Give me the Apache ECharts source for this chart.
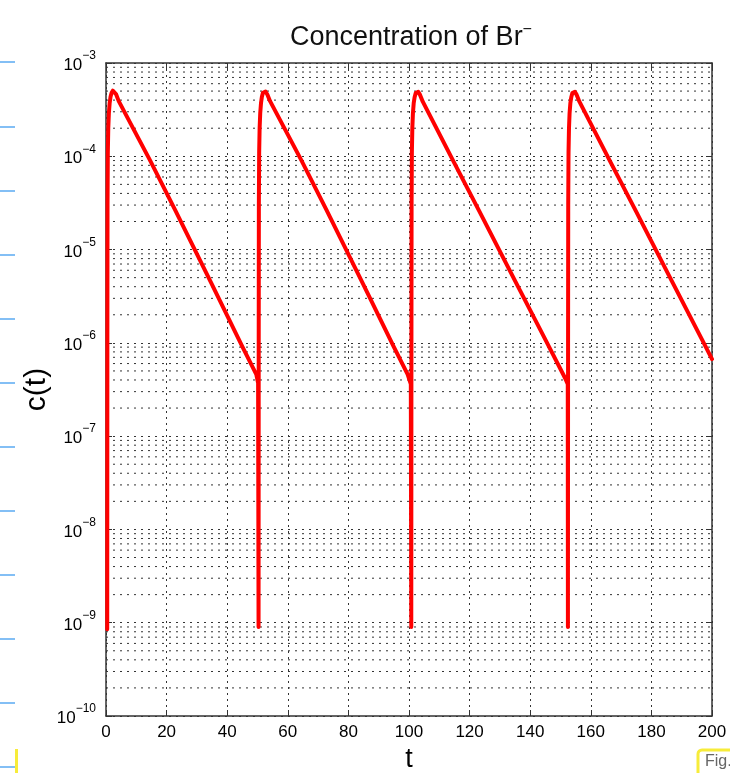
<!DOCTYPE html>
<html>
<head>
<meta charset="utf-8">
<script src="https://cdn.jsdelivr.net/npm/echarts@6/dist/echarts.min.js"></script>
<style>
  html, body { margin: 0; padding: 0; background: #fff; }
  #main { width: 730px; height: 773px; }
</style>
</head>
<body>
<div id="main"></div>
<script>
// 读图得到的数据: t 与 c(t)，每个周期一组
const tCycle1 = [0.4, 0.45, 0.5, 0.6, 0.75, 0.95, 1.2, 1.5, 1.85, 2.25, 2.7, 3.3, 4.2, 14.5, 22.8, 35, 45, 49.6, 50.2];
const cCycle1 = [8.5e-10, 1e-6, 3e-5, 1.1e-4, 2e-4, 2.9e-4, 3.7e-4, 4.35e-4, 4.8e-4, 5.05e-4, 5.0e-4, 4.65e-4, 3.9e-4, 9.1e-5, 2.66e-5, 4.2e-6, 9.1e-7, 4.6e-7, 3.7e-7];

const tCycle2 = [50.35, 50.4, 50.45, 50.55, 50.7, 50.9, 51.15, 51.45, 51.8, 52.2, 52.65, 53.25, 54.15, 64.45, 72.75, 84.95, 94.95, 99.55, 100.6];
const cCycle2 = [9e-10, 1e-6, 3e-5, 1.1e-4, 2e-4, 2.9e-4, 3.7e-4, 4.35e-4, 4.8e-4, 5.0e-4, 4.95e-4, 4.6e-4, 3.9e-4, 9.1e-5, 2.66e-5, 4.2e-6, 9.1e-7, 4.6e-7, 3.6e-7];

const tCycle3 = [100.75, 100.8, 100.85, 100.95, 101.1, 101.3, 101.55, 101.85, 102.2, 102.6, 103.05, 103.65, 104.55, 114.85, 123.15, 135.35, 145.35, 151.5, 152.4];
const cCycle3 = [9e-10, 1e-6, 3e-5, 1.1e-4, 2e-4, 2.9e-4, 3.7e-4, 4.3e-4, 4.75e-4, 4.95e-4, 4.9e-4, 4.55e-4, 3.85e-4, 8.6e-5, 2.6e-5, 4.4e-6, 1.03e-6, 4.2e-7, 3.6e-7];

const tCycle4 = [152.45, 152.5, 152.55, 152.65, 152.8, 153.0, 153.25, 153.55, 153.9, 154.3, 154.75, 155.35, 156.25, 166.55, 174.85, 187.05, 197.05, 200];
const cCycle4 = [9e-10, 1e-6, 3e-5, 1.1e-4, 2e-4, 2.9e-4, 3.7e-4, 4.3e-4, 4.75e-4, 4.95e-4, 4.9e-4, 4.55e-4, 3.85e-4, 8.6e-5, 2.6e-5, 4.4e-6, 1.03e-6, 6.7e-7];

// 坐标轴范围与刻度
const xTicks = [0, 20, 40, 60, 80, 100, 120, 140, 160, 180, 200];
const yDecades = [-10, -9, -8, -7, -6, -5, -4, -3];
const minorSteps = [2, 3, 4, 5, 6, 7, 8, 9];

const FONT = "'Liberation Sans', Arial, Helvetica, sans-serif";

let lineData = [];
[[tCycle1, cCycle1], [tCycle2, cCycle2], [tCycle3, cCycle3], [tCycle4, cCycle4]].forEach(function (pair) {
  for (let i = 0; i < pair[0].length; i++) {
    lineData.push([pair[0][i], pair[1][i]]);
  }
});

// 次网格线 2..9 x 10^k
let minorLines = [];
for (let i = 0; i < yDecades.length - 1; i++) {
  for (let j = 0; j < minorSteps.length; j++) {
    minorLines.push([xTicks[0], minorSteps[j] * Math.pow(10, yDecades[i])]);
  }
}

const chart = echarts.init(document.getElementById('main'), null, { renderer: 'canvas' });

const dotted = { color: '#333', width: 1, type: [2, 5] };

// 截图边上的装饰
let decoration = [];
[62, 127, 191, 255, 319, 383, 447, 511, 575, 639, 703, 767].forEach(function (y) {
  decoration.push({ type: 'line', shape: { x1: 0, y1: y, x2: 15, y2: y }, style: { stroke: '#5aaaf2', lineWidth: 1.5 } });
});
decoration.push({ type: 'rect', shape: { x: 15, y: 749, width: 3, height: 24 }, style: { fill: '#f7ec3a' } });
decoration.push({ type: 'rect', shape: { x: 698, y: 750, width: 40, height: 30, r: 4 }, style: { fill: '#fff', stroke: '#f7ec3a', lineWidth: 3 } });
decoration.push({ type: 'text', x: 705, y: 754, style: { text: 'Fig.', fill: '#666', font: '16px ' + FONT } });

chart.setOption({
  animation: false,
  backgroundColor: '#fff',
  title: {
    text: '{a|Concentration of Br}{s|\u2212}',
    left: 285,
    top: 17,
    textStyle: {
      fontWeight: 'normal',
      rich: {
        a: { fontSize: 27, fontWeight: 'normal', fontFamily: FONT, color: '#111' },
        s: { fontSize: 16, fontWeight: 'normal', fontFamily: FONT, color: '#111', padding: [0, 0, 16, 0] }
      }
    }
  },
  graphic: decoration,
  grid: { left: 106, right: 18, top: 63, bottom: 57, outerBoundsMode: 'none', containLabel: false },
  xAxis: [
    {
      type: 'value',
      min: 0,
      max: 200,
      interval: 20,
      name: 't',
      nameLocation: 'middle',
      nameGap: 28,
      nameTextStyle: { fontSize: 27, fontFamily: FONT, color: '#000' },
      axisLine: { show: true, onZero: false, lineStyle: { color: '#333', width: 1.5 } },
      axisTick: { show: true, inside: true, length: 6, lineStyle: { color: '#333' } },
      axisLabel: { fontSize: 17, fontFamily: FONT, color: '#000', margin: 8 },
      splitLine: { show: true, lineStyle: { color: '#333', width: 1, type: [2, 4] } }
    },
    {
      type: 'value',
      position: 'top',
      min: 0,
      max: 200,
      interval: 20,
      axisLine: { show: true, onZero: false, lineStyle: { color: '#333', width: 1.5 } },
      axisTick: { show: true, inside: true, length: 6, lineStyle: { color: '#333' } },
      axisLabel: { show: false },
      splitLine: { show: false }
    }
  ],
  yAxis: [
    {
      type: 'log',
      logBase: 10,
      min: 1e-10,
      max: 1e-3,
      interval: 1,
      name: 'c(t)',
      nameLocation: 'middle',
      nameGap: 54,
      nameMoveOverlap: false,
      nameTextStyle: { fontSize: 30, fontFamily: FONT, color: '#000' },
      axisLine: { show: true, onZero: false, lineStyle: { color: '#333', width: 1.5 } },
      axisTick: { show: true, inside: true, length: 6, lineStyle: { color: '#333' } },
      axisLabel: {
        margin: 10,
        formatter: function (v) {
          const e = Math.round(Math.log10(v));
          return '{b|10}{s|\u2212' + (-e) + '}';
        },
        rich: {
          b: { fontSize: 17, fontFamily: FONT, color: '#000', padding: [5, 0, 0, 0] },
          s: { fontSize: 12, fontFamily: FONT, color: '#000', padding: [0, 0, 14, 0] }
        }
      },
      splitLine: { show: true, lineStyle: dotted }
    },
    {
      type: 'log',
      logBase: 10,
      position: 'right',
      min: 1e-10,
      max: 1e-3,
      interval: 1,
      axisLine: { show: true, onZero: false, lineStyle: { color: '#333', width: 1.5 } },
      axisTick: { show: true, inside: true, length: 6, lineStyle: { color: '#333' } },
      axisLabel: { show: false },
      splitLine: { show: false }
    }
  ],
  series: [
    {
      // 次网格线，用坐标轴换算位置
      name: 'minor',
      type: 'custom',
      silent: true,
      z: 1,
      data: minorLines,
      renderItem: function (params, api) {
        const p1 = api.coord([xTicks[0], api.value(1)]);
        const p2 = api.coord([xTicks[xTicks.length - 1], api.value(1)]);
        return {
          type: 'line',
          shape: { x1: p1[0], y1: p1[1], x2: p2[0], y2: p2[1] },
          style: { stroke: '#333', lineWidth: 1, lineDash: [2, 5] }
        };
      }
    },
    {
      name: 'Br',
      type: 'line',
      data: lineData,
      showSymbol: false,
      z: 5,
      lineStyle: { color: '#ff0000', width: 4, join: 'round', cap: 'round' },
      itemStyle: { color: '#ff0000' }
    }
  ]
});
</script>
</body>
</html>
